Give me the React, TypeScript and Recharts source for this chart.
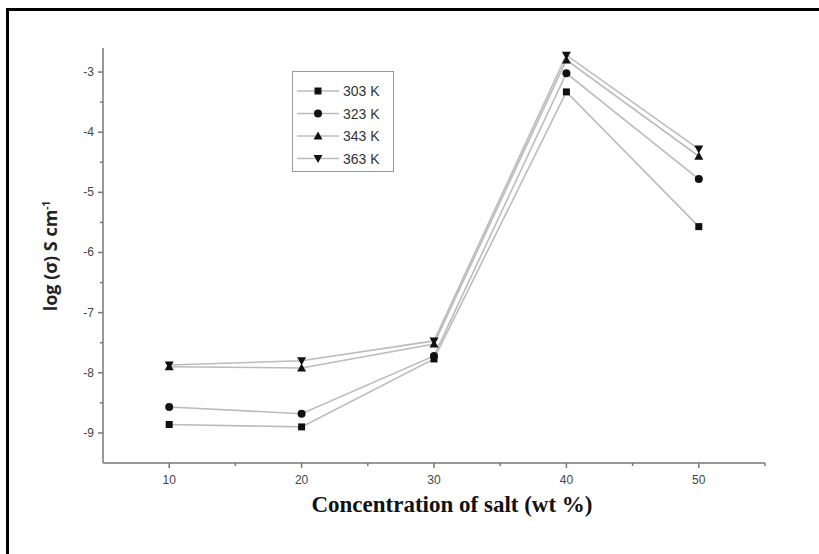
import React from 'react';
import { LineChart, Line, XAxis, YAxis } from 'recharts';

const concentrations = [10, 20, 30, 40, 50];
const k303 = [-8.86, -8.9, -7.77, -3.33, -5.57];
const k323 = [-8.57, -8.68, -7.72, -3.02, -4.78];
const k343 = [-7.9, -7.92, -7.52, -2.8, -4.4];
const k363 = [-7.87, -7.8, -7.47, -2.72, -4.28];

const xTicks = [10, 15, 20, 25, 30, 35, 40, 45, 50, 55];
const yTicks = [-9, -8.5, -8, -7.5, -7, -6.5, -6, -5.5, -5, -4.5, -4, -3.5, -3];

const seriesNames = ['303 K', '323 K', '343 K', '363 K'];
const seriesKeys = ['k303', 'k323', 'k343', 'k363'];
const markers = ['square', 'circle', 'triangle', 'triangleDown'];

const data = concentrations.map((c, i) => ({
  conc: c,
  k303: k303[i],
  k323: k323[i],
  k343: k343[i],
  k363: k363[i],
}));

const Marker = ({ cx, cy, shape }: { cx: number; cy: number; shape: string }) => {
  if (cx == null || cy == null) return null;
  if (shape === 'square') return <rect x={cx - 3.5} y={cy - 3.5} width={7} height={7} fill="#111" />;
  if (shape === 'circle') return <circle cx={cx} cy={cy} r={4} fill="#111" />;
  if (shape === 'triangle')
    return <path d={`M${cx},${cy - 4.5} L${cx + 4.5},${cy + 3.5} L${cx - 4.5},${cy + 3.5} Z`} fill="#111" />;
  return <path d={`M${cx},${cy + 4.5} L${cx + 4.5},${cy - 3.5} L${cx - 4.5},${cy - 3.5} Z`} fill="#111" />;
};

const YTick = (props: any) => {
  const { x, y, payload } = props;
  const major = Number.isInteger(payload.value);
  return (
    <g>
      <line x1={x} x2={x - (major ? 5 : 3)} y1={y} y2={y} stroke="#777" strokeWidth={1.5} />
      {major && (
        <text x={x - 9} y={y} dy={4} textAnchor="end" fontSize={12} fill="#444" fontFamily="Liberation Sans, Arial">
          {payload.value}
        </text>
      )}
    </g>
  );
};

const XTick = (props: any) => {
  const { x, y, payload } = props;
  const major = payload.value % 10 === 0;
  return (
    <g>
      <line x1={x} x2={x} y1={y} y2={y + (major ? 5 : 3)} stroke="#777" strokeWidth={1.5} />
      {major && (
        <text x={x} y={y + 21} textAnchor="middle" fontSize={12} fill="#444" fontFamily="Liberation Sans, Arial">
          {payload.value}
        </text>
      )}
    </g>
  );
};

const LegendBox = () => (
  <div
    style={{
      position: 'absolute',
      left: 292,
      top: 71,
      width: 102,
      height: 101,
      border: '1.5px solid #999',
      boxSizing: 'border-box',
      background: 'white',
    }}
  >
    <svg width={100} height={100} style={{ position: 'absolute', left: 0, top: 0 }}>
      {seriesNames.map((name, i) => {
        const y = 19 + i * 22.5;
        return (
          <g key={name}>
            <line x1={4} x2={46} y1={y} y2={y} stroke="#bbb" strokeWidth={1.5} />
            <Marker cx={25} cy={y} shape={markers[i]} />
            <text x={50} y={y + 5} fontSize={14} fill="#333" fontFamily="Liberation Sans, Arial">
              {name}
            </text>
          </g>
        );
      })}
    </svg>
  </div>
);

export default function App() {
  return (
    <div
      style={{
        position: 'absolute',
        left: 0,
        top: 0,
        width: 819,
        height: 554,
        background: 'white',
        overflow: 'hidden',
      }}
    >
      <div
        style={{
          position: 'absolute',
          left: 6,
          top: 8,
          width: 830,
          height: 560,
          borderTop: '3px solid #000',
          borderLeft: '3px solid #000',
        }}
      />
      <LineChart
        width={819}
        height={554}
        data={data}
        margin={{ top: 48, right: 54, bottom: 61, left: 63 }}
        style={{ position: 'absolute', left: 0, top: 0 }}
      >
        <XAxis
          dataKey="conc"
          type="number"
          domain={[5, 55]}
          ticks={xTicks}
          interval={0}
          height={30}
          tickSize={0}
          tickMargin={0}
          tickLine={false}
          axisLine={{ stroke: '#777', strokeWidth: 1.5 }}
          tick={<XTick />}
        />
        <YAxis
          type="number"
          domain={[-9.5, -2.6]}
          ticks={yTicks}
          interval={0}
          width={40}
          tickSize={0}
          tickMargin={0}
          tickLine={false}
          axisLine={{ stroke: '#777', strokeWidth: 1.5 }}
          tick={<YTick />}
          allowDataOverflow
        />
        {seriesKeys.map((k, i) => (
          <Line
            key={k}
            dataKey={k}
            name={seriesNames[i]}
            stroke="#bcbcbc"
            strokeWidth={1.6}
            isAnimationActive={false}
            dot={(p: any) => <Marker key={`${k}-${p.index}`} cx={p.cx} cy={p.cy} shape={markers[i]} />}
            activeDot={false}
          />
        ))}
      </LineChart>
      <div
        style={{
          position: 'absolute',
          left: 50,
          top: 256,
          transform: 'translate(-50%, -50%) rotate(-90deg)',
          whiteSpace: 'nowrap',
          fontFamily: 'Open Sans, sans-serif',
          fontWeight: 700,
          fontSize: 18,
          color: '#222',
        }}
      >
        log (σ) S cm<sup style={{ fontSize: 10 }}>-1</sup>
      </div>
      <div
        style={{
          position: 'absolute',
          left: 452,
          top: 505,
          transform: 'translate(-50%, -50%)',
          whiteSpace: 'nowrap',
          fontFamily: 'Liberation Serif, Times New Roman, serif',
          fontWeight: 700,
          fontSize: 23,
          lineHeight: '26px',
          color: '#111',
        }}
      >
        Concentration of salt (wt %)
      </div>
      <LegendBox />
    </div>
  );
}
